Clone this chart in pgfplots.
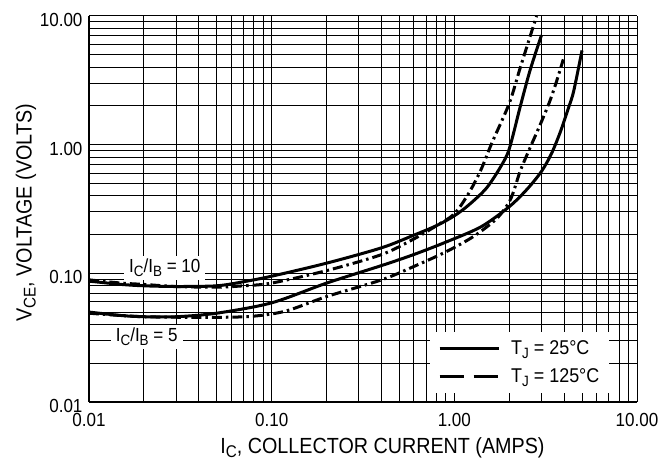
\documentclass[border=0pt]{standalone}
\usepackage{pgfplots}
\pgfplotsset{compat=1.18}
\usepackage{fontspec}
\setmainfont{Liberation Sans}[FakeStretch=0.9]
\newcommand{\sub}[1]{\raisebox{-4bp}{\fontsize{15}{15}\selectfont #1}}
\newcommand{\bigsub}[1]{\raisebox{-4bp}{\fontsize{17}{17}\selectfont #1}}
\begin{document}
\begin{tikzpicture}[font=\fontsize{19}{22}\selectfont]
\begin{axis}[
    scale only axis, width=548bp, height=386bp,
    xmode=log, ymode=log,
    xmin=0.01, xmax=10, ymin=0.01, ymax=10,
    enlargelimits=false,
    axis x line*=bottom, axis y line*=left,
    axis line style={-, line width=2.5bp},
    xtick={0.01,0.1,1,10}, xticklabels={0.01,0.10,1.00,10.00},
    ytick={0.01,0.1,1,10}, yticklabels={0.01,0.10,1.00,10.00},
    /pgf/number format/assume math mode=true,
    major tick length=0pt, minor tick length=0pt,
    grid=both,
    major grid style={black, line width=1bp},
    minor grid style={black, line width=1bp},
    xticklabel style={yshift=-8bp},
    yticklabel style={xshift=-3bp, yshift=-4bp},
    xlabel={I\bigsub{C}, COLLECTOR CURRENT (AMPS)},
    ylabel={V\bigsub{CE}, VOLTAGE (VOLTS)},
    label style={font=\fontsize{22}{24}\selectfont},
    xlabel style={at={(axis description cs:0.5356,-0.12)}, anchor=center},
    ylabel style={at={(axis description cs:-0.115,0.49)}, anchor=center},
    legend image code/.code={\draw[#1] (0bp,0bp) -- (59bp,0bp);},
    legend style={at={(axis description cs:0.6223,0.0233)}, anchor=south west,
        draw=none, fill=white, inner xsep=8bp, inner ysep=7bp,
        row sep=8bp, cells={anchor=west},
        font=\fontsize{20}{22}\selectfont,
        /tikz/every odd column/.append style={column sep=9bp}},
    every axis plot/.append style={black, line width=3bp},
]
% IC/IB = 10, TJ = 25 C
\addplot[smooth, forget plot] coordinates {
 (0.01,0.087)(0.015,0.082)(0.02,0.080)(0.03,0.079)(0.05,0.080)(0.07,0.086)
 (0.1,0.095)(0.2,0.12)(0.4,0.158)(0.6,0.198)(0.8,0.235)(1.0,0.28)(1.2,0.34)
 (1.5,0.46)(1.8,0.68)(2.0,0.93)(2.3,2.0)(2.6,3.8)(3.0,7.1)};
% IC/IB = 10, TJ = 125 C
\addplot[smooth, forget plot, dash pattern=on 10bp off 4bp on 2.5bp off 4bp] coordinates {
 (0.01,0.089)(0.015,0.084)(0.02,0.082)(0.03,0.079)(0.05,0.078)(0.07,0.080)
 (0.1,0.084)(0.2,0.105)(0.4,0.14)(0.6,0.185)(0.8,0.235)(1.0,0.29)(1.2,0.42)
 (1.4,0.64)(1.6,1.02)(2.0,2.1)(2.3,4.0)(2.82,10)};
% IC/IB = 5, TJ = 25 C
\addplot[smooth, forget plot] coordinates {
 (0.01,0.050)(0.015,0.047)(0.02,0.046)(0.03,0.046)(0.05,0.049)(0.1,0.059)
 (0.2,0.084)(0.4,0.115)(0.6,0.14)(0.9,0.175)(1.4,0.23)(2.0,0.33)(2.5,0.45)
 (3.0,0.62)(3.4,0.85)(3.8,1.25)(4.2,1.9)(4.5,2.6)(5.0,5.4)};
% IC/IB = 5, TJ = 125 C
\addplot[smooth, forget plot, dash pattern=on 10bp off 4bp on 2.5bp off 4bp] coordinates {
 (0.01,0.049)(0.02,0.046)(0.05,0.0455)(0.08,0.0465)(0.12,0.051)(0.2,0.066)
 (0.4,0.089)(0.6,0.113)(0.9,0.147)(1.27,0.193)(1.7,0.265)(2.0,0.36)(2.15,0.47)
 (2.3,0.63)(2.6,0.95)(2.9,1.35)(3.3,2.1)(3.6,3.0)(3.95,4.6)};
\addlegendimage{black, line width=3bp}
\addlegendentry{T\sub{J} = 25°C}
\addlegendimage{black, line width=3bp, dash pattern=on 24bp off 10bp}
\addlegendentry{T\sub{J} = 125°C}
\node[fill=white, inner xsep=5bp, inner ysep=3bp] at (axis cs:0.026,0.11) {I\sub{C}/I\sub{B} = 10};
\node[fill=white, inner xsep=5bp, inner ysep=3bp] at (axis cs:0.0207,0.032) {I\sub{C}/I\sub{B} = 5};
\coordinate (sw) at (rel axis cs:0,0);
\coordinate (ne) at (rel axis cs:1,1);
\end{axis}
\node[anchor=east] at ([shift={(-86bp,-15bp)}]sw) {0};
\pgfresetboundingbox
\path ([shift={(-89bp,-60bp)}]sw) rectangle ([shift={(24bp,16bp)}]ne);
\end{tikzpicture}
\end{document}
